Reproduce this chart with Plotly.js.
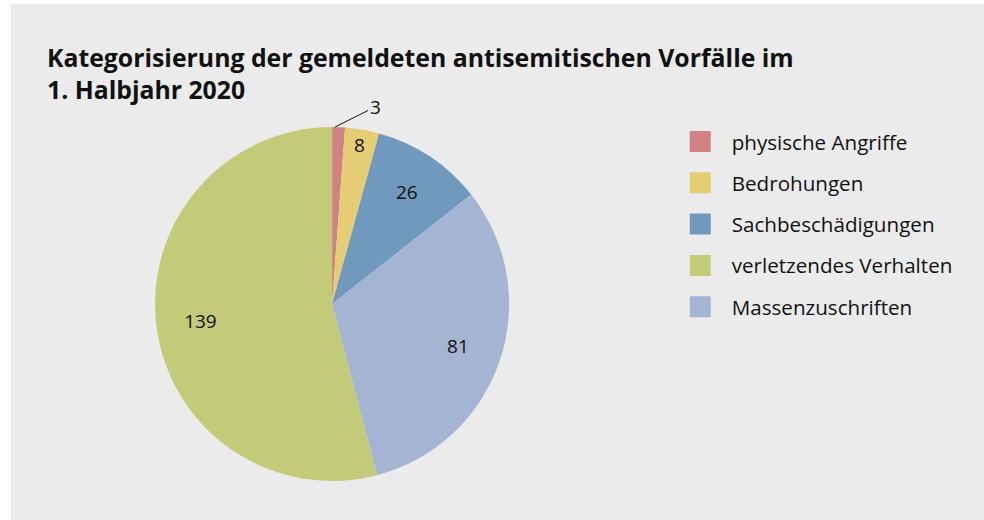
<!DOCTYPE html>
<html>
<head>
<meta charset="utf-8">
<script src="https://cdn.plot.ly/plotly-3.0.1.min.js"></script>
<style>
html, body { margin: 0; padding: 0; background: #ffffff; }
#chart { position: absolute; left: 11px; top: 4px; width: 973px; height: 516px; }
</style>
</head>
<body>
<div id="chart"></div>
<script>
// Pie slices, clockwise from 12 o'clock
const sliceLabels = ["physische Angriffe", "Bedrohungen", "Sachbeschädigungen", "Massenzuschriften", "verletzendes Verhalten"];
const sliceValues = [3, 8, 26, 81, 139];
const sliceColors = ["#d08282", "#e5cd74", "#7198bd", "#a3b5d3", "#c3ca78"];
const sliceTextPos = ["none", "inside", "inside", "inside", "inside"];

// Legend order as in the reference
const legendLabels = ["physische Angriffe", "Bedrohungen", "Sachbeschädigungen", "verletzendes Verhalten", "Massenzuschriften"];

const titleText = "Kategorisierung der gemeldeten antisemitischen Vorfälle im<br>1. Halbjahr 2020";

const FONT = "'Open Sans', Lato, sans-serif";
const DOMAIN = { x: [0.148, 0.512], y: [0.0756, 0.7616] };

const traces = [{
  type: "pie",
  labels: sliceLabels,
  values: sliceValues,
  sort: false,
  direction: "clockwise",
  rotation: 0,
  marker: { colors: sliceColors, line: { width: 0 } },
  textinfo: "none",
  showlegend: false,
  hoverinfo: "label+value",
  domain: DOMAIN
}, {
  // transparent ring carrying the value labels at ~3/4 of the radius
  type: "pie",
  labels: sliceLabels,
  values: sliceValues,
  sort: false,
  direction: "clockwise",
  rotation: 0,
  hole: 0.5,
  marker: { colors: sliceLabels.map(function () { return "rgba(0,0,0,0)"; }), line: { width: 0 } },
  textinfo: "value",
  textposition: sliceTextPos,
  insidetextorientation: "horizontal",
  textfont: { family: FONT, size: 19, color: "#111111" },
  showlegend: false,
  hoverinfo: "skip",
  domain: DOMAIN
}];

legendLabels.forEach(function (name, i) {
  const idx = sliceLabels.indexOf(name);
  traces.push({
    type: "scatter",
    mode: "markers",
    x: [null],
    y: [null],
    name: name,
    legendgroup: "g" + i,
    marker: { symbol: "square", size: 16, color: sliceColors[idx], line: { width: 5, color: sliceColors[idx] } },
    showlegend: true,
    hoverinfo: "skip"
  });
});

const layout = {
  width: 973,
  height: 516,
  paper_bgcolor: "#ebebeb",
  plot_bgcolor: "rgba(0,0,0,0)",
  margin: { l: 0, r: 0, t: 0, b: 0 },
  uniformtext: { mode: "show", minsize: 19 },
  title: {
    text: titleText,
    font: { family: FONT, size: 24.8, color: "#111111", weight: "bold" },
    xref: "container",
    yref: "container",
    x: 36 / 973,
    xanchor: "left",
    y: 1 - 63 / 516,
    yanchor: "top"
  },
  annotations: [{
    // small slice label with leader line
    text: String(sliceValues[0]),
    xref: "paper", yref: "paper",
    x: 324 / 973, y: 1 - 123 / 516,
    showarrow: true, arrowhead: 0, arrowwidth: 1, arrowcolor: "#111111",
    ax: 40, ay: -20, standoff: 0, startstandoff: 0,
    font: { family: FONT, size: 19, color: "#111111" }
  }],
  xaxis: { visible: false },
  yaxis: { visible: false },
  showlegend: true,
  legend: {
    x: 0.676,
    xanchor: "left",
    y: 0.772,
    yanchor: "top",
    bgcolor: "rgba(0,0,0,0)",
    font: { family: FONT, size: 20.6, color: "#111111" },
    itemwidth: 53,
    tracegroupgap: 11.5,
    traceorder: "grouped",
    itemclick: false,
    itemdoubleclick: false
  }
};

Plotly.newPlot("chart", traces, layout, { displayModeBar: false, responsive: false });
</script>
</body>
</html>
